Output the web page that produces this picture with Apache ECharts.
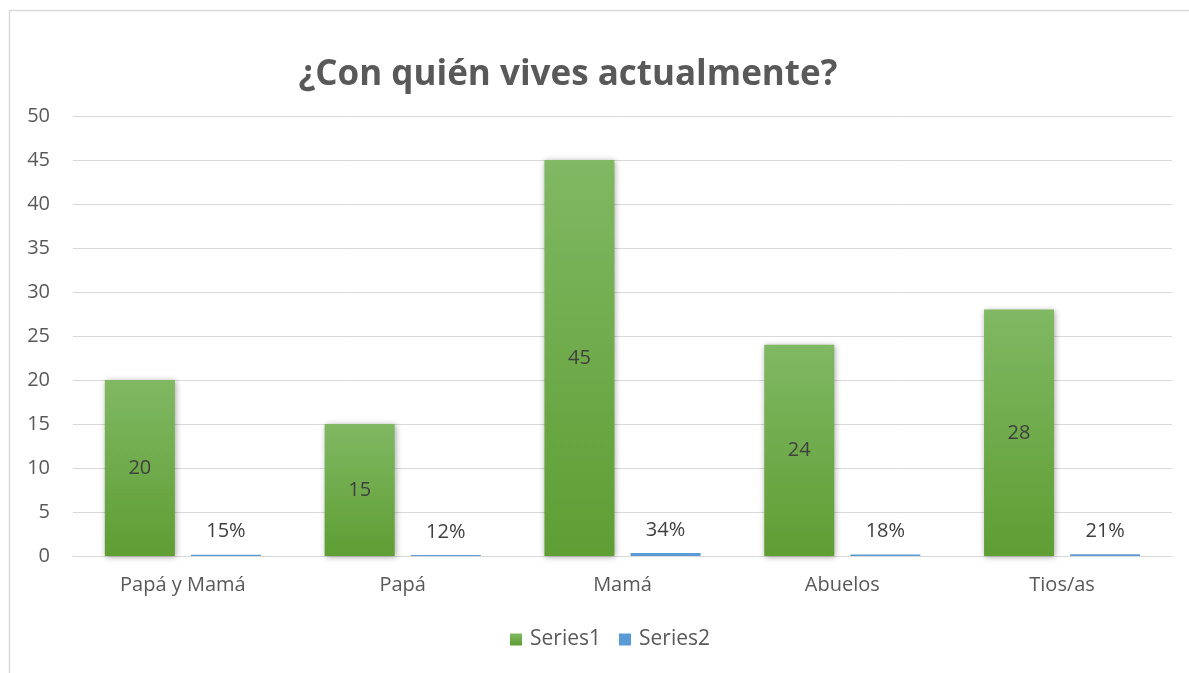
<!DOCTYPE html>
<html>
<head>
<meta charset="utf-8">
<script src="https://cdn.jsdelivr.net/npm/echarts@6/dist/echarts.min.js"></script>
<style>
  html, body { margin: 0; padding: 0; background: #fff; }
  #chart { width: 1189px; height: 673px; }
</style>
</head>
<body>
<div id="chart"></div>
<script>
const categories = ['Papá y Mamá', 'Papá', 'Mamá', 'Abuelos', 'Tios/as']
const series1 = [20, 15, 45, 24, 28]
const series2 = [0.15, 0.12, 0.34, 0.18, 0.21]
const yTicks = { min: 0, max: 50, interval: 5 }

const textColor = '#595959'
const font = "'Open Sans', 'Liberation Sans', sans-serif"

const chart = echarts.init(document.getElementById('chart'), null, { renderer: 'canvas' })

chart.setOption({
  backgroundColor: '#fff',
  animation: false,
  title: {
    text: '¿Con quién vives actualmente?',
    left: 563,
    top: 53,
    textAlign: 'center',
    textStyle: { color: textColor, fontSize: 35, fontWeight: 'bold', fontFamily: font },
  },
  graphic: [
    {
      type: 'rect',
      shape: { x: 9.5, y: 10.5, width: 1190, height: 680 },
      style: { fill: 'none', stroke: '#d9d9d9', lineWidth: 1.5 },
      silent: true,
    },
  ],
  legend: {
    bottom: 18,
    left: 505,
    itemWidth: 12,
    itemHeight: 12,
    itemGap: 18,
    icon: 'rect',
    textStyle: { color: textColor, fontSize: 21, fontFamily: font, padding: [0, 0, 0, 3] },
    data: ['Series1', 'Series2'],
  },
  grid: { left: 73, right: 17, top: 116, bottom: 117 },
  xAxis: {
    type: 'category',
    data: categories,
    axisTick: { show: false },
    axisLine: { lineStyle: { color: '#d9d9d9', width: 1 } },
    axisLabel: { color: textColor, fontSize: 20, fontFamily: font, margin: 19 },
  },
  yAxis: {
    type: 'value',
    min: yTicks.min,
    max: yTicks.max,
    interval: yTicks.interval,
    axisLine: { show: false },
    axisTick: { show: false },
    axisLabel: { color: textColor, fontSize: 20, fontFamily: font, margin: 23 },
    splitLine: { lineStyle: { color: '#d9d9d9', width: 1 } },
  },
  series: [
    {
      name: 'Series1',
      type: 'bar',
      data: series1,
      barWidth: 70,
      barGap: '23%',
      itemStyle: {
        color: new echarts.graphic.LinearGradient(0, 0, 0, 1, [
          { offset: 0, color: '#80b863' },
          { offset: 1, color: '#5e9e33' },
        ]),
        shadowColor: 'rgba(0,0,0,0.35)',
        shadowBlur: 6,
        shadowOffsetX: 1,
        shadowOffsetY: 1,
      },
      label: {
        show: true,
        position: 'inside',
        color: '#404040',
        fontSize: 20,
        fontFamily: font,
      },
    },
    {
      name: 'Series2',
      type: 'bar',
      data: series2,
      barWidth: 70,
      itemStyle: { color: '#5b9bd5' },
      label: {
        show: true,
        position: 'top',
        distance: 13,
        color: '#404040',
        fontSize: 20,
        fontFamily: font,
        formatter: (p) => Math.round(p.value * 100) + '%',
      },
    },
  ],
})
</script>
</body>
</html>
